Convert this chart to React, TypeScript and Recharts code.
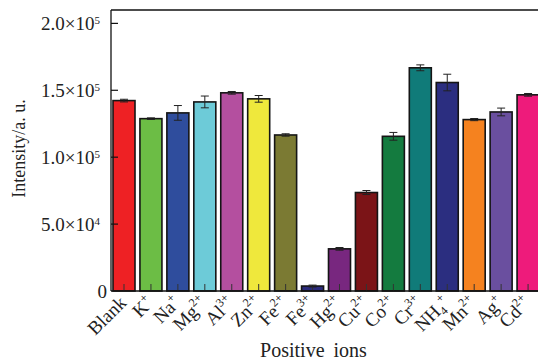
import React from "react";
import { BarChart, Bar, XAxis, YAxis, ErrorBar, Cell, ReferenceLine } from "recharts";

const ions = ["Blank", "K", "Na", "Mg", "Al", "Zn", "Fe", "Fe", "Hg", "Cu", "Co", "Cr", "NH", "Mn", "Ag", "Cd"];
const subs = ["", "", "", "", "", "", "", "", "", "", "", "", "4", "", "", ""];
const charges = ["", "+", "+", "2+", "3+", "2+", "2+", "3+", "2+", "2+", "2+", "3+", "+", "2+", "+", "2+"];
const intensity = [142300, 128800, 133100, 141300, 148100, 143600, 116600, 3700, 31500, 73600, 115600, 166800, 155800, 128100, 133800, 146600];
const errors = [1000, 600, 5500, 4400, 1000, 2500, 900, 700, 1000, 1500, 2900, 2200, 6200, 800, 2900, 1000];
const colors = [
  "#ee2124", "#6cbd45", "#2f4d9d", "#6dcbd8", "#b44f9f", "#efe83c", "#7b7a33", "#2b2b7b",
  "#78277f", "#7b1417", "#147b3f", "#107b79", "#2b2e80", "#f5821f", "#6a4f9f", "#ee1b7b",
];
const yTicks = [0, 50000, 100000, 150000, 200000];

const data = ions.map((ion, i) => ({
  name: ion + subs[i] + charges[i],
  value: intensity[i],
  err: errors[i],
}));

const FONT = "'Liberation Serif', 'Times New Roman', serif";

const YTick = (props: any) => {
  const { x, y, payload } = props;
  const v = payload.value;
  if (v === 0) {
    return (
      <g>
        <text x={x - 4} y={y + 7} textAnchor="end" fontSize={19} fontFamily={FONT} fill="#222">0</text>
      </g>
    );
  }
  const exp = Math.floor(Math.log10(v));
  const mant = (v / Math.pow(10, exp)).toFixed(1);
  return (
    <g>
      <line x1={x} x2={x + 7} y1={y} y2={y} stroke="#111" strokeWidth={1.2} />
      <text x={x - 11} y={y + 7} textAnchor="end" fontSize={19} fontFamily={FONT} fill="#222">
        {mant}×10
        <tspan dy={-6} fontSize={11}>{exp}</tspan>
      </text>
    </g>
  );
};

const XTick = (props: any) => {
  const { x, y, index } = props;
  const i = index;
  return (
    <g transform={`translate(${x + 3},${y + 13}) rotate(-45)`}>
      <text x={0} y={0} textAnchor="end" fontSize={19} fontFamily={FONT} fill="#222">
        {ions[i]}
        {subs[i] ? <tspan dy={4} fontSize={12}>{subs[i]}</tspan> : null}
        {charges[i] ? (
          <tspan dy={subs[i] ? -12 : -8} fontSize={12}>{charges[i]}</tspan>
        ) : null}
      </text>
    </g>
  );
};

const BarShape = (props: any) => {
  const { x, y, width, height, fill } = props;
  const cx = x + width / 2;
  const t = Math.min(7, height);
  return (
    <g>
      <rect x={x} y={y} width={width} height={height} fill={fill} stroke="#151515" strokeWidth={1.6} />
      <line x1={cx} x2={cx} y1={y + height} y2={y + height - t} stroke="#333" strokeWidth={1} />
    </g>
  );
};

const YLabel = (props: any) => {
  const vb = props.viewBox;
  const cy = vb.y + vb.height / 2 - 2;
  return (
    <text
      transform={`translate(${vb.x + 25},${cy}) rotate(-90)`}
      textAnchor="middle"
      fontSize={18}
      fontFamily={FONT}
      fill="#222"
    >
      Intensity/a. u.
    </text>
  );
};

const XLabel = (props: any) => {
  const vb = props.viewBox;
  const cx = vb.x + vb.width / 2 - 13;
  return (
    <text x={cx} y={vb.y + 66} textAnchor="middle" fontSize={20} fontFamily={FONT} fill="#222">
      Positive<tspan dx={9}>ions</tspan>
    </text>
  );
};

export default function App() {
  return (
    <div style={{ position: "fixed", left: 0, top: 0, width: 538, height: 361, overflow: "hidden", background: "#fff" }}>
      <BarChart
        width={542}
        height={361}
        data={data}
        margin={{ top: 10, right: 0, bottom: 0, left: 0 }}
        style={{ fontFamily: FONT }}
      >
        <XAxis
          dataKey="name"
          height={70}
          interval={0}
          tickLine={false}
          tickSize={0}
          tickMargin={0}
          axisLine={{ stroke: "#111", strokeWidth: 1.3 }}
          tick={<XTick />}
          label={<XLabel />}
        />
        <YAxis
          width={111}
          domain={[0, 210000]}
          ticks={yTicks}
          tickLine={false}
          tickSize={0}
          tickMargin={0}
          axisLine={{ stroke: "#111", strokeWidth: 1.3 }}
          tick={<YTick />}
          label={<YLabel />}
        />
        <ReferenceLine y={210000} stroke="#111" strokeWidth={1.3} />
        <Bar dataKey="value" barSize={22} shape={<BarShape />} isAnimationActive={false}>
          {data.map((d, i) => (
            <Cell key={d.name} fill={colors[i]} />
          ))}
          <ErrorBar dataKey="err" width={4} stroke="#222" strokeWidth={1} isAnimationActive={false} />
        </Bar>
      </BarChart>
    </div>
  );
}
